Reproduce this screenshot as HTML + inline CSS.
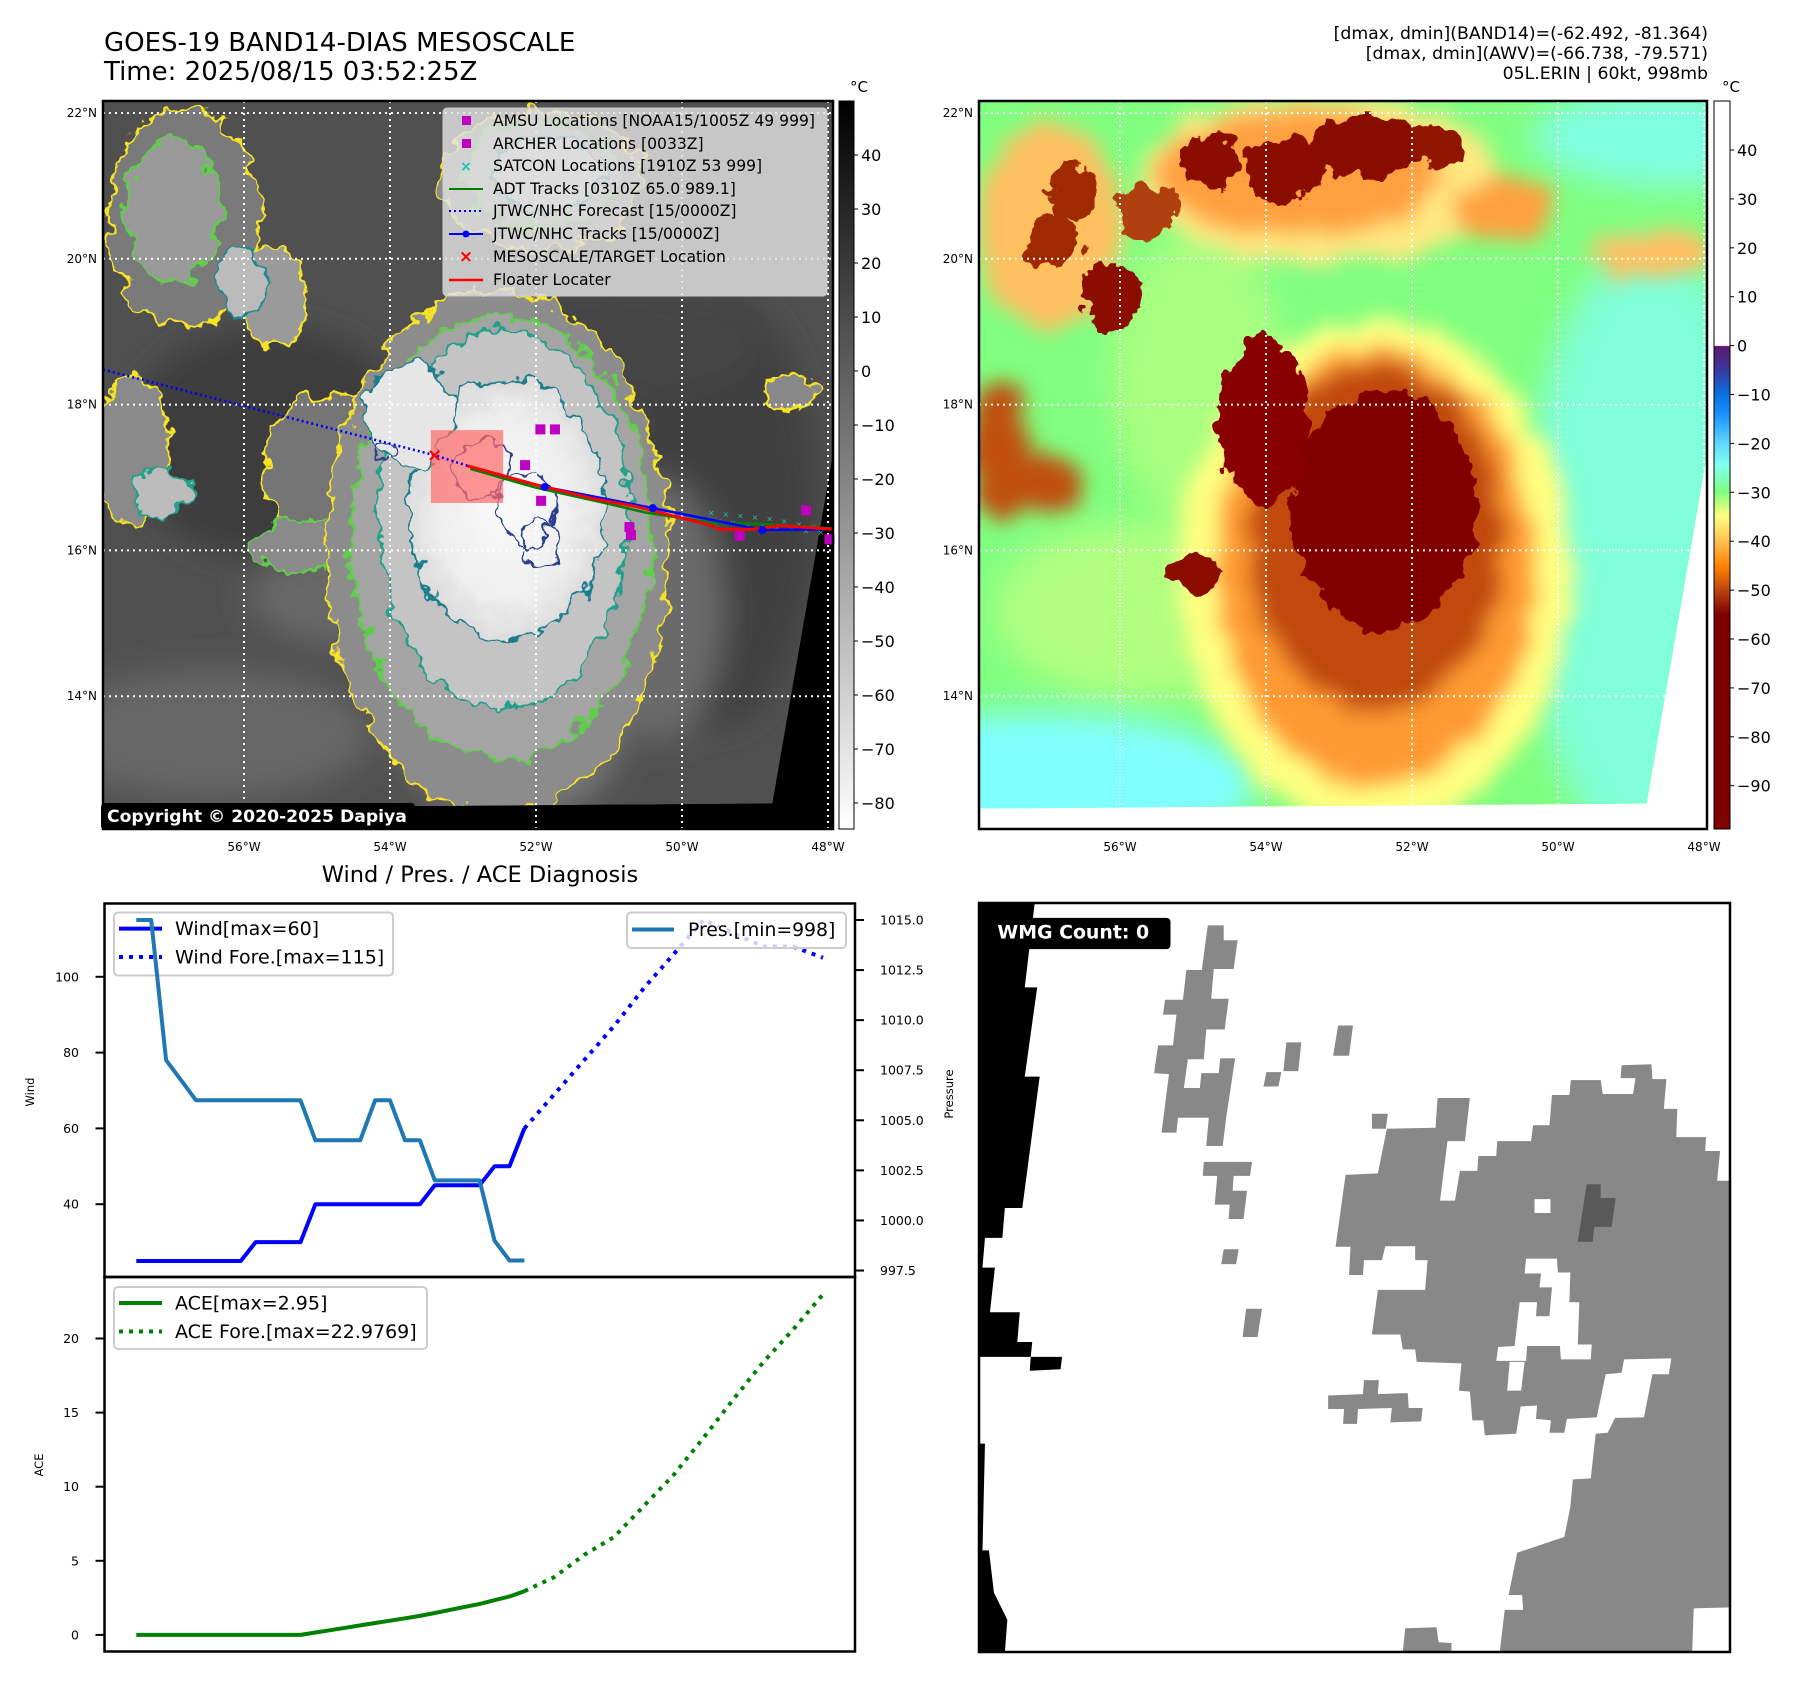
<!DOCTYPE html>
<html><head><meta charset="utf-8">
<style>
html,body{margin:0;padding:0;background:#fff;}
body{width:1797px;height:1690px;position:relative;overflow:hidden;font-family:"DejaVu Sans","Liberation Sans",sans-serif;}
svg text{font-family:"DejaVu Sans","Liberation Sans",sans-serif;}
</style></head>
<body>
<svg id="root" width="1797" height="1690" viewBox="0 0 1797 1690" xmlns="http://www.w3.org/2000/svg">
<defs>
  <filter id="rough" x="-10%" y="-10%" width="120%" height="120%">
    <feTurbulence type="fractalNoise" baseFrequency="0.035" numOctaves="3" seed="4" result="n"/>
    <feDisplacementMap in="SourceGraphic" in2="n" scale="38" xChannelSelector="R" yChannelSelector="G"/>
  </filter>
  <filter id="roughBlur" x="-10%" y="-10%" width="120%" height="120%">
    <feTurbulence type="fractalNoise" baseFrequency="0.03" numOctaves="3" seed="7" result="n"/>
    <feDisplacementMap in="SourceGraphic" in2="n" scale="40" xChannelSelector="R" yChannelSelector="G" result="d"/>
    <feGaussianBlur in="d" stdDeviation="14"/>
  </filter>
  <filter id="blur8"><feGaussianBlur stdDeviation="10"/></filter>
  <filter id="blur20"><feGaussianBlur stdDeviation="22"/></filter>
  <clipPath id="dataClip"><polygon points="0,0 1000,0 1000,485 917,965 0,972"/></clipPath>
  <linearGradient id="greyBar" x1="0" y1="0" x2="0" y2="1">
    <stop offset="0" stop-color="#000"/><stop offset="1" stop-color="#fff"/>
  </linearGradient>
  <radialGradient id="coreGrad" cx="0.5" cy="0.5" r="0.5">
    <stop offset="0" stop-color="#fafafa"/><stop offset="0.7" stop-color="#eeeeee"/><stop offset="1" stop-color="#dcdcdc"/>
  </radialGradient>
  <linearGradient id="colorBar" x1="0" y1="0" x2="0" y2="1">
    <stop offset="0" stop-color="#ffffff"/>
    <stop offset="0.336" stop-color="#ffffff"/>
    <stop offset="0.337" stop-color="#5c1870"/>
    <stop offset="0.37" stop-color="#3a3aa0"/>
    <stop offset="0.403" stop-color="#0a70e0"/>
    <stop offset="0.43" stop-color="#1a90ff"/>
    <stop offset="0.47" stop-color="#60d8ff"/>
    <stop offset="0.50" stop-color="#80fff0"/>
    <stop offset="0.537" stop-color="#80ff80"/>
    <stop offset="0.57" stop-color="#ffff80"/>
    <stop offset="0.605" stop-color="#ffc050"/>
    <stop offset="0.64" stop-color="#ff8000"/>
    <stop offset="0.67" stop-color="#c04810"/>
    <stop offset="0.705" stop-color="#800000"/>
    <stop offset="1" stop-color="#800000"/>
  </linearGradient>
</defs>

<!-- Header texts -->
<text x="104" y="51" font-size="26">GOES-19 BAND14-DIAS MESOSCALE</text>
<text x="104" y="80" font-size="26">Time: 2025/08/15 03:52:25Z</text>
<text x="1708" y="39" font-size="17.3" text-anchor="end">[dmax, dmin](BAND14)=(-62.492, -81.364)</text>
<text x="1708" y="59" font-size="17.3" text-anchor="end">[dmax, dmin](AWV)=(-66.738, -79.571)</text>
<text x="1708" y="79" font-size="17.3" text-anchor="end">05L.ERIN | 60kt, 998mb</text>

<!-- LEFT MAP -->
<g>
<rect x="103" y="101" width="730" height="728" fill="#000"/>
<svg x="103" y="101" width="730" height="728" viewBox="0 0 1000 1000" preserveAspectRatio="none">
 <g clip-path="url(#dataClip)">
  <rect width="1000" height="1000" fill="#505050"/>
  <g filter="url(#blur20)">
   <ellipse cx="230" cy="470" rx="200" ry="160" fill="#3c3c3c"/>
   <ellipse cx="840" cy="560" rx="140" ry="300" fill="#404040"/>
   <ellipse cx="700" cy="330" rx="200" ry="80" fill="#444"/>
   <ellipse cx="150" cy="870" rx="220" ry="90" fill="#666"/>
   <ellipse cx="560" cy="870" rx="150" ry="120" fill="#777"/>
   <ellipse cx="760" cy="700" rx="90" ry="180" fill="#6a6a6a"/>
   <ellipse cx="350" cy="680" rx="150" ry="70" fill="#686868"/>
  </g>
  <g filter="url(#rough)" stroke-width="3.5">
   <ellipse cx="110" cy="160" rx="105" ry="150" fill="#7a7a7a" stroke="#f7e327"/>
   <ellipse cx="95" cy="150" rx="65" ry="100" fill="#999" stroke="#5fcf4a"/>
   <ellipse cx="600" cy="110" rx="140" ry="95" fill="#8c8c8c" stroke="#f7e327"/>
   <ellipse cx="600" cy="100" rx="105" ry="72" fill="#aaa" stroke="#5fcf4a"/>
   <ellipse cx="610" cy="100" rx="75" ry="52" fill="#c8c8c8" stroke="#1f8a8f"/>
   <ellipse cx="235" cy="270" rx="45" ry="70" fill="#9a9a9a" stroke="#f7e327"/>
   <ellipse cx="190" cy="250" rx="30" ry="50" fill="#bbb" stroke="#1f8a8f"/>
   <ellipse cx="40" cy="480" rx="50" ry="100" fill="#8a8a8a" stroke="#f7e327"/>
   <ellipse cx="80" cy="540" rx="40" ry="35" fill="#bcbcbc" stroke="#22a08a"/>
   <ellipse cx="310" cy="510" rx="90" ry="110" fill="#747474" stroke="#f7e327"/>
   <ellipse cx="285" cy="610" rx="80" ry="35" fill="#8a8a8a" stroke="#5fcf4a"/>
   <ellipse cx="940" cy="400" rx="35" ry="25" fill="#888" stroke="#f7e327"/>
   <ellipse cx="540" cy="620" rx="235" ry="360" fill="#8c8c8c" stroke="#f7e327"/>
   <ellipse cx="545" cy="600" rx="205" ry="305" fill="#a4a4a4" stroke="#5fcf4a"/>
   <ellipse cx="548" cy="575" rx="172" ry="260" fill="#c4c4c4" stroke="#22a08a"/>
   <ellipse cx="553" cy="560" rx="135" ry="180" fill="url(#coreGrad)" stroke="#1f7d8c" stroke-width="3"/>
   <ellipse cx="420" cy="430" rx="60" ry="70" fill="#e6e6e6" stroke="#1f7d8c" stroke-width="3"/>
  </g>
  <g filter="url(#rough)" fill="none" stroke="#2b3f8a" stroke-width="3">
   <ellipse cx="520" cy="510" rx="40" ry="40"/>
   <ellipse cx="580" cy="560" rx="40" ry="50"/>
   <ellipse cx="600" cy="610" rx="25" ry="35"/>
   <ellipse cx="390" cy="480" rx="15" ry="15"/>
  </g>
 </g>
 <polygon points="1000,485 1000,1000 0,1000 0,972 917,965" fill="#000"/>
</svg>
</g>
<g id="leftGrid" stroke="#fff" stroke-width="2" stroke-dasharray="2 4" fill="none"></g>
<g id="tracks"></g>
<rect x="103" y="101" width="730" height="728" fill="none" stroke="#000" stroke-width="2.5"/>

<!-- Left legend -->
<g>
 <rect x="443" y="108" width="384" height="188" rx="4" fill="#e2e2e2" fill-opacity="0.82" stroke="#ccc"/>
 <g font-size="15.6">
  <rect x="462" y="116" width="9" height="9" fill="#c000c0"/><text x="493" y="126">AMSU Locations [NOAA15/1005Z 49 999]</text>
  <rect x="462" y="139" width="9" height="9" fill="#c000c0"/><text x="493" y="149">ARCHER Locations [0033Z]</text>
  <text x="466" y="171" fill="#20c0c0" font-size="14" text-anchor="middle" font-weight="bold">×</text><text x="493" y="171">SATCON Locations [1910Z 53 999]</text>
  <line x1="449" y1="189" x2="483" y2="189" stroke="#008000" stroke-width="2"/><text x="493" y="194">ADT Tracks [0310Z 65.0 989.1]</text>
  <line x1="449" y1="211" x2="483" y2="211" stroke="#0000ff" stroke-width="2" stroke-dasharray="2 3"/><text x="493" y="216">JTWC/NHC Forecast [15/0000Z]</text>
  <line x1="449" y1="234" x2="483" y2="234" stroke="#0000ff" stroke-width="2"/><circle cx="466" cy="234" r="3.5" fill="#0000ff"/><text x="493" y="239">JTWC/NHC Tracks [15/0000Z]</text>
  <text x="466" y="262" fill="#ff0000" font-size="17" text-anchor="middle" font-weight="bold">×</text><text x="493" y="262">MESOSCALE/TARGET Location</text>
  <line x1="449" y1="280" x2="483" y2="280" stroke="#ff0000" stroke-width="2.5"/><text x="493" y="285">Floater Locater</text>
 </g>
</g>
<g>
 <rect x="101" y="803" width="314" height="27" rx="4" fill="#000"/>
 <text x="107" y="822" fill="#fff" font-size="17.2" font-weight="bold">Copyright © 2020-2025 Dapiya</text>
</g>

<!-- Left colorbar -->
<g>
 <rect x="839" y="101" width="15" height="728" fill="url(#greyBar)" stroke="#000" stroke-width="1"/>
 <text x="850" y="92" font-size="15">°C</text>
 <g id="leftCbTicks" font-size="16"></g>
</g>

<!-- RIGHT MAP -->
<g>
<rect x="979" y="101" width="728" height="728" fill="#fff"/>
<svg x="979" y="101" width="728" height="728" viewBox="0 0 1000 1000" preserveAspectRatio="none">
 <g clip-path="url(#dataClip)">
  <rect width="1000" height="1000" fill="#80ff80"/>
  <g filter="url(#blur20)">
   <ellipse cx="920" cy="620" rx="170" ry="420" fill="#80ffd8"/>
   <ellipse cx="80" cy="940" rx="300" ry="100" fill="#80ffff"/>
   <ellipse cx="960" cy="50" rx="200" ry="70" fill="#80ffe0"/>
   <ellipse cx="220" cy="700" rx="200" ry="120" fill="#b0ff80"/>
   <ellipse cx="300" cy="380" rx="120" ry="200" fill="#a8ff80"/>
  </g>
  <g filter="url(#roughBlur)">
   <ellipse cx="470" cy="110" rx="250" ry="115" fill="#ffe880"/>
   <ellipse cx="100" cy="170" rx="100" ry="140" fill="#ffc060"/>
   <ellipse cx="545" cy="650" rx="270" ry="350" fill="#ffff80"/>
   <ellipse cx="720" cy="150" rx="70" ry="45" fill="#ffa040"/>
   <ellipse cx="920" cy="210" rx="90" ry="30" fill="#ffc060"/>
   <ellipse cx="440" cy="100" rx="195" ry="85" fill="#ffa040"/>
   <ellipse cx="545" cy="640" rx="220" ry="300" fill="#ff9a30"/>
   <ellipse cx="545" cy="600" rx="175" ry="240" fill="#c04a10"/>
   <ellipse cx="30" cy="480" rx="40" ry="100" fill="#c05010"/>
   <ellipse cx="95" cy="525" rx="45" ry="40" fill="#c05010"/>
  </g>
  <g filter="url(#rough)">
   <ellipse cx="555" cy="560" rx="128" ry="165" fill="#800000"/>
   <ellipse cx="390" cy="440" rx="60" ry="115" fill="#880500"/>
   <ellipse cx="317" cy="82" rx="40" ry="35" fill="#8a1000"/>
   <ellipse cx="421" cy="95" rx="55" ry="45" fill="#8a1000"/>
   <ellipse cx="531" cy="62" rx="75" ry="45" fill="#880800"/>
   <ellipse cx="628" cy="62" rx="40" ry="30" fill="#901500"/>
   <ellipse cx="180" cy="270" rx="40" ry="48" fill="#8a1000"/>
   <ellipse cx="128" cy="121" rx="32" ry="38" fill="#a02a05"/>
   <ellipse cx="105" cy="190" rx="38" ry="38" fill="#a02a05"/>
   <ellipse cx="297" cy="647" rx="40" ry="25" fill="#8a1000"/>
   <ellipse cx="230" cy="150" rx="38" ry="38" fill="#b04010"/>
  </g>
 </g>
</svg>
</g>
<g id="rightGrid" stroke="#fff" stroke-width="2" stroke-dasharray="2 4" fill="none"></g>
<rect x="979" y="101" width="728" height="728" fill="none" stroke="#000" stroke-width="2.5"/>
<g>
 <rect x="1714" y="101" width="16" height="728" fill="url(#colorBar)" stroke="#000" stroke-width="1"/>
 <text x="1722" y="92" font-size="15">°C</text>
 <g id="rightCbTicks" font-size="16"></g>
</g>
<g id="mapLabels" font-size="12"></g>

<!-- Bottom-left chart -->
<text x="480" y="882" font-size="22.5" text-anchor="middle">Wind / Pres. / ACE Diagnosis</text>
<g id="chart"></g>

<!-- Bottom-right WMG -->
<g>
<svg x="979" y="903" width="751" height="749" viewBox="18 25 1510 1510" preserveAspectRatio="none">
 <rect x="18" y="25" width="1510" height="1510" fill="#fff"/>
 <g fill="#000">
  <polygon points="18,25 130,25 110,195 135,195 110,375 140,375 105,640 70,640 65,700 30,700 25,760 50,760 40,850 100,850 95,910 125,910 122,940 18,940"/>
  <polygon points="122,940 185,940 182,965 120,968"/>
  <polygon points="18,1115 30,1115 25,1330 38,1330 48,1415 75,1470 70,1535 18,1535"/>
 </g>
 <g fill="#888">
  <polygon points="478,70 510,70 510,100 538,100 530,158 490,158 485,218 520,218 512,280 475,280 470,340 438,340 430,398 462,398 465,368 500,368 503,338 533,338 515,458 508,515 475,515 480,458 418,458 415,488 385,488 400,370 370,368 378,312 408,312 415,250 388,250 392,220 428,220 435,160 466,160"/>
  <polygon points="740,272 770,272 762,333 730,333"/>
  <polygon points="636,306 666,306 660,364 630,364"/>
  <polygon points="596,366 626,366 620,395 590,395"/>
  <polygon points="470,547 567,547 563,575 530,575 528,605 557,605 550,662 520,662 522,633 492,633 497,575 468,575"/>
  <polygon points="510,723 540,723 535,753 505,753"/>
  <polygon points="555,843 587,843 578,900 548,900"/>
  <polygon points="808,450 840,450 836,480 808,480"/>
  <polygon points="838,480 936,478 940,418 1005,418 995,505 960,505 945,625 975,625 985,565 1020,565 1022,535 1058,535 1060,505 1128,505 1132,473 1165,473 1170,412 1205,412 1208,382 1268,382 1272,410 1333,410 1338,378 1308,378 1310,352 1370,350 1372,380 1400,380 1395,440 1422,440 1420,497 1480,497 1478,525 1508,525 1502,585 1528,585 1528,1445 1455,1447 1452,1535 1065,1535 1075,1450 1112,1450 1110,1420 1083,1420 1100,1335 1195,1303 1207,1242 1212,1187 1248,1185 1258,1095 1282,1093 1297,1063 1355,1062 1372,975 1405,975 1410,943 1315,945 1310,972 1278,975 1260,1062 1200,1065 1195,1093 1165,1093 1168,1068 1138,1065 1140,1038 1107,1040 1098,1095 1035,1098 1032,1068 1010,1068 1005,1010 983,1008 988,953 898,950 895,925 870,925 865,895 808,895 820,805 915,805 920,745 895,745 895,717 835,717 828,745 792,745 790,775 762,775 765,718 735,718 755,573 820,570"/>
  <polygon points="720,1018 790,1015 792,987 822,987 820,1015 880,1013 882,1043 910,1043 907,1070 845,1072 848,1043 780,1045 778,1075 750,1075 752,1045 720,1045"/>
  <polygon points="875,1487 938,1485 942,1515 968,1517 968,1535 870,1535"/>
 </g>
 <g fill="#fff">
  <rect x="1135" y="622" width="32" height="28"/>
  <polygon points="1118,742 1180,742 1182,770 1207,770 1205,830 1225,830 1222,915 1250,915 1248,945 1188,945 1186,918 1120,918 1118,948 1058,948 1062,920 1095,918 1105,830 1140,830 1138,858 1165,858 1170,800 1145,800 1148,772 1115,772"/>
  <polygon points="1085,950 1115,950 1108,1008 1080,1008"/>
 </g>
 <polygon fill="#595959" points="1240,592 1268,592 1268,620 1298,620 1290,678 1255,678 1252,708 1222,708"/>
 <rect x="35" y="55" width="368" height="63" rx="8" fill="#000"/>
 <text x="55" y="97" fill="#fff" font-size="38" font-weight="bold">WMG Count: 0</text>
</svg>
<rect x="979" y="903" width="751" height="749" fill="none" stroke="#000" stroke-width="2.5"/>
</g>

<script>
var NS = 'http://www.w3.org/2000/svg';
function mk(tag, attrs, parent) {
  var e = document.createElementNS(NS, tag);
  for (var k in attrs) e.setAttribute(k, attrs[k]);
  parent.appendChild(e);
  return e;
}

/* ---------- MAP DATA ---------- */
var latTicks = [22, 20, 18, 16, 14];
var lonTicks = [-56, -54, -52, -50, -48];
var forecastTrackLon = [-57.93, -53.37, -52.94];
var forecastTrackLat = [18.48, 17.30, 17.16];
var jtwcLon = [-52.94, -51.88, -50.40, -48.90, -47.94];
var jtwcLat = [17.16, 16.87, 16.58, 16.28, 16.29];
var floaterLon = [-52.94, -52.04, -51.17, -50.62, -49.59, -49.50, -49.04, -48.65, -47.94];
var floaterLat = [17.16, 16.91, 16.70, 16.60, 16.34, 16.29, 16.29, 16.34, 16.29];
var adtLon = [-52.9, -52.0, -51.1, -50.5, -49.6, -48.8, -47.94];
var adtLat = [17.12, 16.86, 16.66, 16.52, 16.38, 16.36, 16.30];
var amsuLon = [-51.94, -51.74, -52.15, -51.93, -50.72, -50.70, -49.21, -48.30, -47.98];
var amsuLat = [17.66, 17.66, 17.17, 16.68, 16.32, 16.21, 16.20, 16.55, 16.15];
var satconLon = [-49.6, -49.4, -49.2, -49.0, -48.8, -48.6, -48.4, -48.2, -49.5, -49.3, -49.1, -48.9, -48.7, -48.5, -48.3, -48.1];
var satconLat = [16.52, 16.50, 16.48, 16.46, 16.44, 16.40, 16.36, 16.33, 16.40, 16.38, 16.36, 16.34, 16.32, 16.30, 16.27, 16.25];
var targetLon = [-53.39];
var targetLat = [17.31];
var boxLon = [-53.44, -52.45];
var boxLat = [17.65, 16.65];

function mx(lon) { return 244 + (lon + 56) * 73; }
function my(lat) { return 113 + (22 - lat) * 72.9; }

var lg = document.getElementById('leftGrid');
var rg = document.getElementById('rightGrid');
for (var i = 0; i < lonTicks.length; i++) {
  var x = mx(lonTicks[i]);
  var l1 = mk('line', {x1: x, y1: 101, x2: x, y2: 829}, lg);
  
  
  var l2 = mk('line', {x1: x + 876, y1: 101, x2: x + 876, y2: 829}, rg);
  
  
}
for (var i = 0; i < latTicks.length; i++) {
  var y = my(latTicks[i]);
  var l1 = mk('line', {x1: 103, y1: y, x2: 833, y2: y}, lg);
  
  
  var l2 = mk('line', {x1: 979, y1: y, x2: 1707, y2: y}, rg);
  
  
}

var ml = document.getElementById('mapLabels');
for (var i = 0; i < latTicks.length; i++) {
  var y = my(latTicks[i]) + 4;
  var t = mk('text', {x: 97, y: y, 'text-anchor': 'end'}, ml);
  t.textContent = latTicks[i] + '°N';
  
  
  var t2 = mk('text', {x: 973, y: y, 'text-anchor': 'end'}, ml);
  t2.textContent = latTicks[i] + '°N';
  
  
}
for (var i = 0; i < lonTicks.length; i++) {
  var x = mx(lonTicks[i]);
  var t = mk('text', {x: x, y: 851, 'text-anchor': 'middle'}, ml);
  t.textContent = (-lonTicks[i]) + '°W';
  
  
  var t2 = mk('text', {x: x + 876, y: 851, 'text-anchor': 'middle'}, ml);
  
  
  t2.textContent = (-lonTicks[i]) + '°W';
}

var tr = document.getElementById('tracks');
function poly(lons, lats) {
  var p = [];
  for (var i = 0; i < lons.length; i++) p.push(mx(lons[i]).toFixed(1) + ',' + my(lats[i]).toFixed(1));
  return p.join(' ');
}
var box = mk('rect', {x: mx(boxLon[0]), y: my(boxLat[0]), width: mx(boxLon[1]) - mx(boxLon[0]), height: my(boxLat[1]) - my(boxLat[0]), fill: '#ff6a6a', 'fill-opacity': 0.7}, tr);


var fc = mk('polyline', {points: poly(forecastTrackLon, forecastTrackLat), fill: 'none', stroke: '#0000ff', 'stroke-width': 2.5, 'stroke-dasharray': '2 3'}, tr);


for (var i = 0; i < satconLon.length; i++) {
  var s = mk('text', {x: mx(satconLon[i]), y: my(satconLat[i]) + 3, 'font-size': 8, fill: '#20c0b0', 'text-anchor': 'middle'}, tr);
  s.textContent = '×';
  
  
}
var ad = mk('polyline', {points: poly(adtLon, adtLat), fill: 'none', stroke: '#008000', 'stroke-width': 2.5}, tr);


var jt = mk('polyline', {points: poly(jtwcLon, jtwcLat), fill: 'none', stroke: '#0000ff', 'stroke-width': 2.5}, tr);


var fl = mk('polyline', {points: poly(floaterLon, floaterLat), fill: 'none', stroke: '#ff0000', 'stroke-width': 3}, tr);


for (var i = 1; i < jtwcLon.length - 1; i++) {
  var c = mk('circle', {cx: mx(jtwcLon[i]), cy: my(jtwcLat[i]), r: 4, fill: '#0000ff'}, tr);
  
  
}
for (var i = 0; i < amsuLon.length; i++) {
  var r = mk('rect', {x: mx(amsuLon[i]) - 5, y: my(amsuLat[i]) - 5, width: 10, height: 10, fill: '#c000c0'}, tr);
  
  
}
var tg = mk('text', {x: mx(targetLon[0]), y: my(targetLat[0]) + 6, 'font-size': 18, 'font-weight': 'bold', fill: '#ff0000', 'text-anchor': 'middle'}, tr);
tg.textContent = '×';



/* ---------- COLORBARS ---------- */
var leftCbValues = [40, 30, 20, 10, 0, -10, -20, -30, -40, -50, -60, -70, -80];
var rightCbValues = [40, 30, 20, 10, 0, -10, -20, -30, -40, -50, -60, -70, -80, -90];
function cbL(v) { return 155 + (40 - v) * 5.4; }
function cbR(v) { return 150 + (40 - v) * 4.89; }
var lct = document.getElementById('leftCbTicks');
for (var i = 0; i < leftCbValues.length; i++) {
  var y = cbL(leftCbValues[i]);
  var tk = mk('line', {x1: 854, y1: y, x2: 858, y2: y, stroke: '#000'}, lct);
  
  
  var t = mk('text', {x: 861, y: y + 6}, lct);
  t.textContent = leftCbValues[i] < 0 ? '\u2212' + (-leftCbValues[i]) : String(leftCbValues[i]);
  
  
}
var rct = document.getElementById('rightCbTicks');
for (var i = 0; i < rightCbValues.length; i++) {
  var y = cbR(rightCbValues[i]);
  var tk = mk('line', {x1: 1730, y1: y, x2: 1734, y2: y, stroke: '#000'}, rct);
  
  
  var t = mk('text', {x: 1737, y: y + 6}, rct);
  t.textContent = rightCbValues[i] < 0 ? '\u2212' + (-rightCbValues[i]) : String(rightCbValues[i]);
  
  
}

/* ---------- DIAGNOSIS CHART DATA ---------- */
var obsHours = [-156,-150,-144,-138,-132,-126,-120,-114,-108,-102,-96,-90,-84,-78,-72,-66,-60,-54,-48,-42,-36,-30,-24,-18,-12,-6,0];
var windObs = [25,25,25,25,25,25,25,25,30,30,30,30,40,40,40,40,40,40,40,40,45,45,45,45,50,50,60];
var presObs = [1015,1015,1008,1007,1006,1006,1006,1006,1006,1006,1006,1006,1004,1004,1004,1004,1006,1006,1004,1004,1002,1002,1002,1002,999,998,998];
var aceObs = [0,0,0,0,0,0,0,0,0,0,0,0,0.16,0.32,0.48,0.64,0.80,0.96,1.12,1.28,1.48,1.69,1.89,2.09,2.34,2.59,2.95];
var windForeHours = [0,12,24,36,48,60,72,96,108,120];
var windFore = [60,69,78,87,97,106,115,108,108,105];
var aceForeHours = [0,12,24,36,48,60,72,84,96,108,120];
var aceFore = [2.95,3.9,5.4,6.6,8.7,10.8,13.3,15.9,18.4,20.6,22.98];
var windTicks = [40,60,80,100];
var presTicks = [997.5,1000.0,1002.5,1005.0,1007.5,1010.0,1012.5,1015.0];
var aceTicks = [0,5,10,15,20];

var AX = {l: 104.5, r: 855, t: 903.5, m: 1277, b: 1651.5};
function xH(h) { return 524.4 + h * 2.488; }
function yW(v) { return 976.8 + (100 - v) * 3.79; }
function yP(p) { return 920 + (1015 - p) * 20.03; }
function yA(a) { return 1634.9 - a * 14.82; }

var ch = document.getElementById('chart');
function pts(xs, ys, fx, fy) {
  var p = [];
  for (var i = 0; i < xs.length; i++) p.push(fx(xs[i]).toFixed(1) + ',' + fy(ys[i]).toFixed(1));
  return p.join(' ');
}
for (var i = 0; i < windTicks.length; i++) {
  var y = yW(windTicks[i]);
  var tk = mk('line', {x1: AX.l - 9, y1: y, x2: AX.l, y2: y, stroke: '#000', 'stroke-width': 2}, ch);
  
  
  var t = mk('text', {x: 79, y: y + 4.5, 'font-size': 12.5, 'text-anchor': 'end'}, ch);
  t.textContent = windTicks[i];
  
  
}
for (var i = 0; i < presTicks.length; i++) {
  var y = yP(presTicks[i]);
  var tk = mk('line', {x1: AX.r, y1: y, x2: AX.r + 9, y2: y, stroke: '#000', 'stroke-width': 2}, ch);
  
  
  var t = mk('text', {x: 880, y: y + 4.5, 'font-size': 12.5}, ch);
  t.textContent = presTicks[i].toFixed(1);
  
  
}
for (var i = 0; i < aceTicks.length; i++) {
  var y = yA(aceTicks[i]);
  var tk = mk('line', {x1: AX.l - 9, y1: y, x2: AX.l, y2: y, stroke: '#000', 'stroke-width': 2}, ch);
  
  
  var t = mk('text', {x: 79, y: y + 4.5, 'font-size': 12.5, 'text-anchor': 'end'}, ch);
  t.textContent = aceTicks[i];
  
  
}
var yl = mk('text', {x: 34, y: 1092, 'font-size': 11.5, 'text-anchor': 'middle', transform: 'rotate(-90 34 1092)'}, ch);
yl.textContent = 'Wind';


var al = mk('text', {x: 43, y: 1465, 'font-size': 11.5, 'text-anchor': 'middle', transform: 'rotate(-90 43 1465)'}, ch);
al.textContent = 'ACE';


var pl = mk('text', {x: 953, y: 1094, 'font-size': 11.5, 'text-anchor': 'middle', transform: 'rotate(-90 953 1094)'}, ch);
pl.textContent = 'Pressure';



var wo = mk('polyline', {points: pts(obsHours, windObs, xH, yW), fill: 'none', stroke: '#0000ff', 'stroke-width': 4, 'stroke-linejoin': 'round'}, ch);


var wf = mk('polyline', {points: pts(windForeHours, windFore, xH, yW), fill: 'none', stroke: '#0000ff', 'stroke-width': 4, 'stroke-dasharray': '4 6'}, ch);



var wl = mk('g', {}, ch);


mk('rect', {x: 114, y: 912.5, width: 279, height: 63, rx: 4, fill: '#fff', 'fill-opacity': 0.85, stroke: '#ccc', 'stroke-width': 2}, wl);
mk('line', {x1: 119, y1: 928.6, x2: 162, y2: 928.6, stroke: '#0000ff', 'stroke-width': 4}, wl);
mk('line', {x1: 119, y1: 957, x2: 162, y2: 957, stroke: '#0000ff', 'stroke-width': 4, 'stroke-dasharray': '4 6'}, wl);
var w1 = mk('text', {x: 175, y: 935, 'font-size': 19}, wl); w1.textContent = 'Wind[max=60]';
var w2 = mk('text', {x: 175, y: 963.5, 'font-size': 19}, wl); w2.textContent = 'Wind Fore.[max=115]';

var po = mk('polyline', {points: pts(obsHours, presObs, xH, yP), fill: 'none', stroke: '#1f77b4', 'stroke-width': 4, 'stroke-linejoin': 'round'}, ch);



var pg = mk('g', {}, ch);


mk('rect', {x: 627, y: 912.5, width: 219, height: 35.5, rx: 4, fill: '#fff', 'fill-opacity': 0.8, stroke: '#ccc', 'stroke-width': 2}, pg);
mk('line', {x1: 632, y1: 929.5, x2: 674, y2: 929.5, stroke: '#1f77b4', 'stroke-width': 4}, pg);
var p1 = mk('text', {x: 688, y: 936, 'font-size': 18.8}, pg); p1.textContent = 'Pres.[min=998]';

var ao = mk('polyline', {points: pts(obsHours, aceObs, xH, yA), fill: 'none', stroke: '#008000', 'stroke-width': 4, 'stroke-linejoin': 'round'}, ch);


var af = mk('polyline', {points: pts(aceForeHours, aceFore, xH, yA), fill: 'none', stroke: '#008000', 'stroke-width': 4, 'stroke-dasharray': '4 6'}, ch);


var ag = mk('g', {}, ch);


mk('rect', {x: 114, y: 1287, width: 313, height: 62, rx: 4, fill: '#fff', 'fill-opacity': 0.85, stroke: '#ccc', 'stroke-width': 2}, ag);
mk('line', {x1: 119, y1: 1303, x2: 162, y2: 1303, stroke: '#008000', 'stroke-width': 4}, ag);
mk('line', {x1: 119, y1: 1331.5, x2: 162, y2: 1331.5, stroke: '#008000', 'stroke-width': 4, 'stroke-dasharray': '4 6'}, ag);
var a1 = mk('text', {x: 175, y: 1309.5, 'font-size': 19}, ag); a1.textContent = 'ACE[max=2.95]';
var a2 = mk('text', {x: 175, y: 1338, 'font-size': 19}, ag); a2.textContent = 'ACE Fore.[max=22.9769]';

var f1 = mk('rect', {x: AX.l, y: AX.t, width: AX.r - AX.l, height: AX.m - AX.t, fill: 'none', stroke: '#000', 'stroke-width': 2.5}, ch);


var f2 = mk('rect', {x: AX.l, y: AX.m, width: AX.r - AX.l, height: AX.b - AX.m, fill: 'none', stroke: '#000', 'stroke-width': 2.5}, ch);


</script>
</body></html>
